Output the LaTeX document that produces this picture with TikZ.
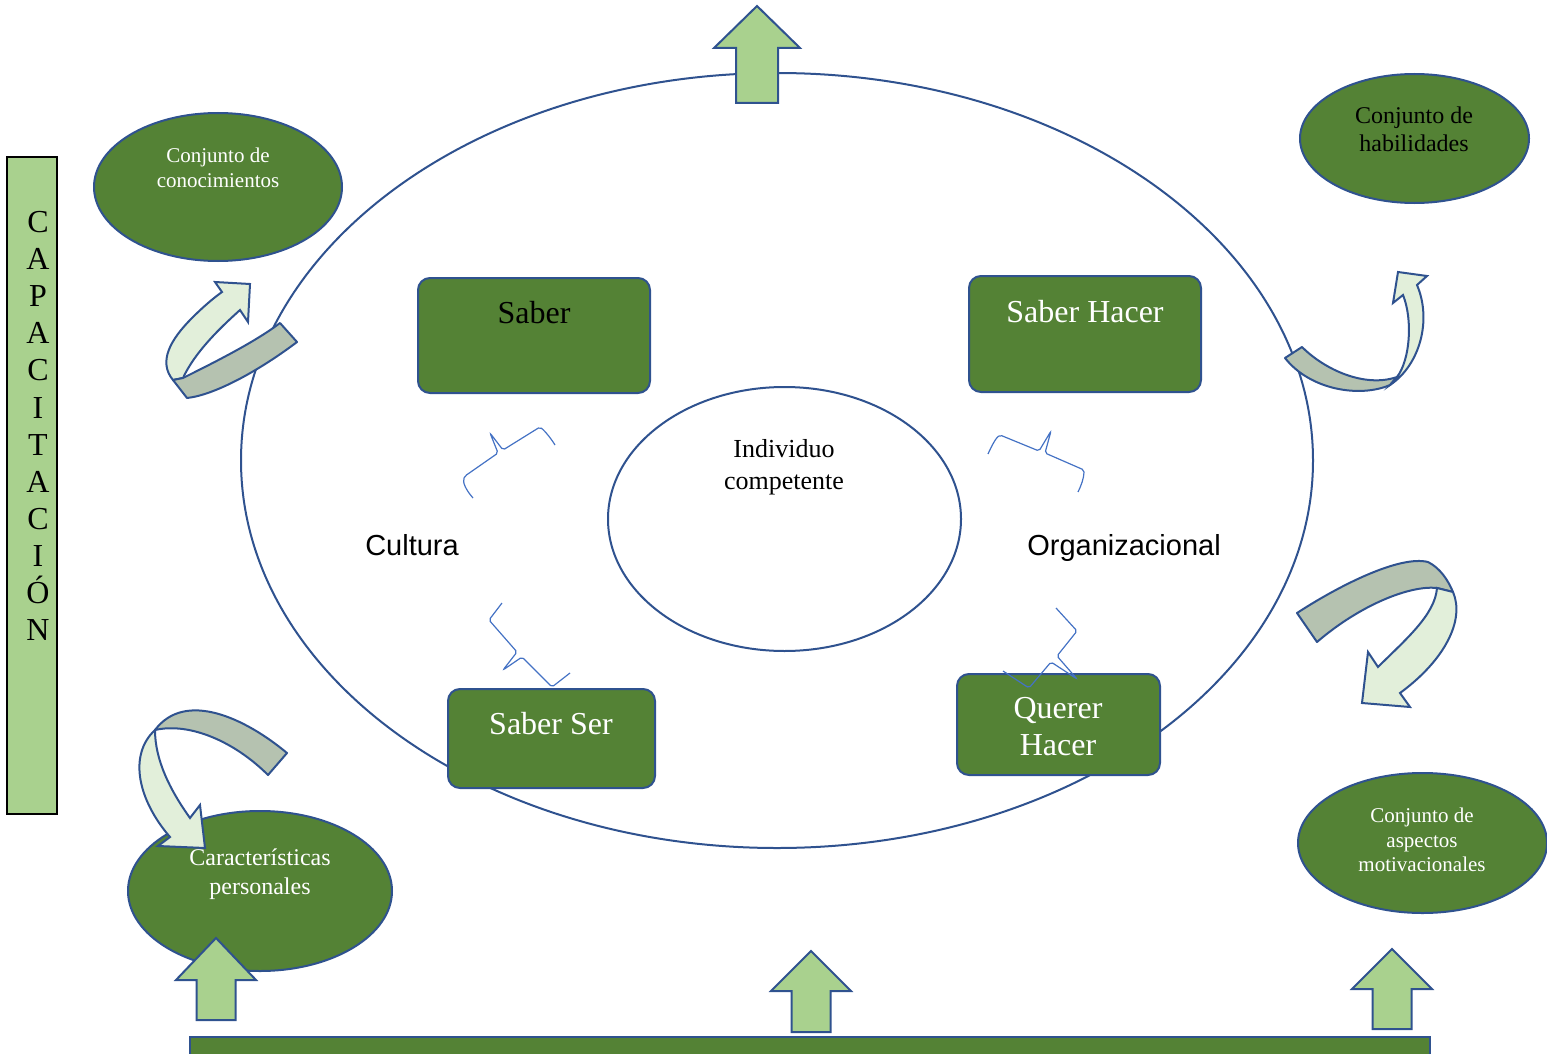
\documentclass[tikz,border=0pt]{standalone}
\usepackage{fontspec}
\setmainfont{Liberation Serif}
\newfontfamily\arialfont{Liberation Sans}
\usetikzlibrary{shapes.geometric}

\definecolor{leaf}{HTML}{548235}
\definecolor{mint}{HTML}{A9D18E}
\definecolor{edge}{HTML}{2F528F}
\definecolor{pale}{HTML}{E2EFDA}
\definecolor{sage}{HTML}{B5C2B0}
\definecolor{bracecol}{HTML}{4472C4}
\newcommand{\fs}[2]{\fontsize{#1}{#2}\selectfont}

\begin{document}
\begin{tikzpicture}
   [x=1pt,y=-1pt,
    box/.style={rectangle,rounded corners=12pt,fill=leaf,draw=edge,line width=2pt,inner sep=0pt},
    blob/.style={ellipse,fill=leaf,draw=edge,line width=2pt,inner sep=0pt},
    txt/.style={align=center,inner sep=0pt},
    uparr/.style={fill=mint,draw=edge,line width=2pt,line join=miter},
    fold/.style={fill=sage,draw=edge,line width=2pt,line join=round},
    curl/.style={fill=pale,draw=edge,line width=2pt,line join=miter},
    bracket/.style={draw=bracecol,line width=1.2pt,rounded corners=2pt}]
  \useasboundingbox (0,0) rectangle (1547,1054);

  % outer ring and centre
  \node[ellipse,draw=edge,line width=2pt,minimum width=1072pt,minimum height=775pt] (ring) at (777,460.5) {};
  \node[ellipse,draw=edge,line width=2pt,fill=white,minimum width=353pt,minimum height=264pt] (ind) at (784.5,519) {};
  \node[txt,font=\fs{26}{32}] (indt) at (784,467) {Individuo\\competente};

  % the four boxes
  \node[box,minimum width=232pt,minimum height=115pt] (sab) at (534,335.5) {};
  \node[box,minimum width=232pt,minimum height=116pt] (sabh) at (1085,334) {};
  \node[box,minimum width=207pt,minimum height=99pt] (sabs) at (551.5,738.5) {};
  \node[box,minimum width=203pt,minimum height=101pt] (qh) at (1058.5,724.5) {};
  \node[txt,font=\fs{32}{37}] (sabt) at (534,313) {Saber};
  \node[txt,font=\fs{32}{37},text=white] (sabht) at (1085,312) {Saber Hacer};
  \node[txt,font=\fs{32}{37},text=white] (sabst) at (551,724) {Saber Ser};
  \node[txt,font=\fs{32}{37},text=white] (qht) at (1058,727) {Querer\\Hacer};

  \node[txt,font=\arialfont\fs{29}{34}] (cult) at (412,545) {Cultura};
  \node[txt,font=\arialfont\fs{29}{34}] (org) at (1124,548) {Organizacional};

  % brackets between the boxes and the centre
  \draw[bracket] (473,498) .. controls (466,490) and (462,482) .. (465,476) -- (498,453) -- (490,433) -- (503,450) -- (540,427) .. controls (546,432) and (552,440) .. (555,445);
  \draw[bracket] (988,454) .. controls (992,445) and (996,438) .. (1000,435) -- (1039,451) -- (1051,431) -- (1045,453) -- (1084,470) .. controls (1084,478) and (1081,486) .. (1078,492);
  \draw[bracket] (502,603) -- (489,620) -- (517,652) -- (503,670) -- (522,657) -- (552,687) -- (570,673);
  \draw[bracket] (1056,608) -- (1077,631) -- (1057,656) -- (1077,679) -- (1051,662) -- (1029,688) -- (1003,671);

  % side ellipses
  \node[blob,minimum width=248pt,minimum height=148pt] (conoc) at (218,187) {};
  \node[txt,font=\fs{21}{25},text=white] at (218,168) {Conjunto de\\conocimientos};
  \node[blob,minimum width=229pt,minimum height=129pt] (habil) at (1414.5,138.5) {};
  \node[txt,font=\fs{24}{28}] at (1414,129) {Conjunto de\\habilidades};
  \node[blob,minimum width=264pt,minimum height=160pt] (caract) at (260,891) {};
  \node[txt,font=\fs{24}{29},text=white] at (260,874) {Características\\personales};
  \node[blob,minimum width=249pt,minimum height=140pt] (motiv) at (1422.5,843) {};
  \node[txt,font=\fs{21}{24.5},text=white] at (1422,840) {Conjunto de\\aspectos\\motivacionales};

  % training bar
  \node[rectangle,fill=mint,draw=black,line width=1.5pt,minimum width=50pt,minimum height=657pt,inner sep=0pt] (cap) at (32,485.5) {};
  \node[txt,font=\fs{32}{37.1}] (capt) at (38,426) {C\\A\\P\\A\\C\\I\\T\\A\\C\\I\\Ó\\N};

  % curled arrows
  \draw[curl] (173,380) .. controls (158,362) and (170,340) .. (192,318) .. controls (205,305) and (215,297) .. (222,292) -- (215,282) -- (250,284) -- (248,322) -- (240,310) .. controls (220,328) and (195,352) .. (183,378) -- cycle;
  \draw[fold] (183,378) .. controls (215,362) and (255,342) .. (280,323) -- (297,342) .. controls (260,370) and (215,395) .. (187,398) -- (173,380) -- cycle;

  \draw[fold] (1285,358) -- (1302,347) .. controls (1325,370) and (1365,388) .. (1397,377) -- (1390,385) .. controls (1360,398) and (1310,390) .. (1285,358) -- cycle;
  \draw[curl] (1390,385) .. controls (1420,365) and (1432,320) .. (1417,285) -- (1427,276) -- (1398,272) -- (1393,303) -- (1403,295) .. controls (1413,320) and (1410,360) .. (1397,377) -- cycle;

  \draw[fold] (1297,613) .. controls (1340,585) and (1400,555) .. (1428,562) .. controls (1440,568) and (1448,580) .. (1453,592) -- (1437,588) .. controls (1410,585) and (1360,605) .. (1317,642) -- cycle;
  \draw[curl] (1437,588) -- (1453,592) .. controls (1465,620) and (1445,660) .. (1400,693) -- (1410,707) -- (1362,703) -- (1368,652) -- (1378,667) .. controls (1405,640) and (1435,615) .. (1437,588) -- cycle;

  \draw[fold] (287,753) .. controls (245,718) and (185,690) .. (155,730) .. controls (190,722) and (235,742) .. (268,775) -- cycle;
  \draw[curl] (155,730) .. controls (128,755) and (138,800) .. (170,837) -- (158,846) -- (205,848) -- (200,805) -- (190,818) .. controls (170,790) and (155,760) .. (155,730) -- cycle;

  % straight arrows
  \foreach \cx/\t/\h/\b/\hw/\sw in {757/6/48/103/43/21, 216/938/980/1020/40/19.5, 811/951/991/1032/40/19.5, 1392/949/989/1029/40/19.5}
    \draw[uparr] (\cx,\t) -- (\cx+\hw,\h) -- (\cx+\sw,\h) -- (\cx+\sw,\b) -- (\cx-\sw,\b) -- (\cx-\sw,\h) -- (\cx-\hw,\h) -- cycle;

  % base bar
  \node[rectangle,fill=leaf,draw=edge,line width=2pt,minimum width=1240pt,minimum height=30pt,inner sep=0pt] (base) at (810,1052) {};

\end{tikzpicture}
\end{document}
